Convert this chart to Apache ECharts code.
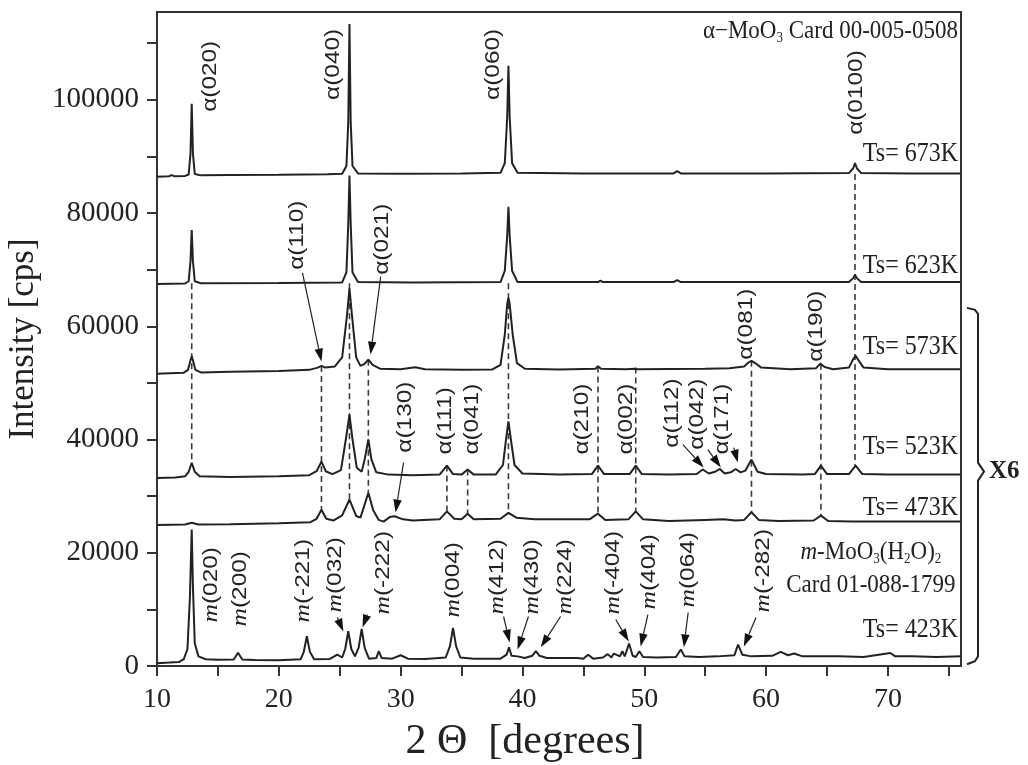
<!DOCTYPE html>
<html><head><meta charset="utf-8">
<script src="https://cdn.jsdelivr.net/npm/echarts@6/dist/echarts.min.js"></script>
<style>html,body{margin:0;padding:0;background:#fff}#c{width:1028px;height:765px}</style>
</head><body><div id="c"></div>
<script>
// ---------- axes ----------
const X_MIN = 10, X_MAX = 76, Y_MIN = 0, Y_MAX = 115500;
const xTickLabels = [10, 20, 30, 40, 50, 60, 70];
const yTickLabels = [0, 20000, 40000, 60000, 80000, 100000];

// ---------- traces [2theta, intensity] ----------
const t673 = [[10,86400],[11,86500],[11.2,86700],[11.4,86500],[12.3,86550],[12.6,86800],[12.75,90500],[12.85,99300],[12.95,90500],[13.1,86900],[13.6,86650],[16,86700],[20,86750],[24,86850],[25.2,86950],[25.55,88300],[25.7,96000],[25.8,113400],[25.9,96000],[26.05,88300],[26.5,87000],[30,86950],[35,87000],[38.2,87100],[38.55,88800],[38.75,97000],[38.85,106000],[38.95,97000],[39.15,88800],[39.6,87100],[45,87000],[52.4,87000],[52.7,87400],[53.0,87000],[60,87000],[66.8,87050],[67.15,87900],[67.3,88800],[67.45,87900],[67.8,87050],[72,87000],[76,87000]];
const t623 = [[10,67450],[12.3,67550],[12.6,67950],[12.75,71500],[12.85,77000],[12.95,71500],[13.1,67950],[13.6,67600],[20,67650],[25.2,67750],[25.55,69500],[25.7,78000],[25.8,86600],[25.9,78000],[26.05,69500],[26.5,67800],[31,67750],[38.2,67800],[38.55,69800],[38.75,76000],[38.85,81100],[38.95,76000],[39.15,69800],[39.6,67800],[46.2,67800],[46.4,68050],[46.6,67800],[52.4,67800],[52.7,68150],[53,67800],[66.8,67800],[67.15,68500],[67.3,69100],[67.45,68500],[67.8,67800],[76,67800]];
const t573 = [[10,51600],[11,51700],[12.2,51800],[12.55,52300],[12.75,54000],[12.85,54700],[12.95,54000],[13.15,52300],[13.6,51850],[16,51950],[20,52100],[22.5,52300],[23.2,52700],[23.5,53000],[23.8,52700],[24.6,52900],[25.2,54500],[25.6,62000],[25.8,66700],[26.0,62000],[26.35,54500],[26.7,53000],[27.0,53300],[27.35,54100],[27.7,53200],[28.3,52500],[30,52400],[31.2,52750],[32,52400],[35,52300],[37.5,52350],[38.2,53200],[38.55,58500],[38.75,64000],[38.85,65000],[38.95,64000],[39.2,58500],[39.55,53500],[40.2,52500],[43,52350],[46.0,52500],[46.2,52950],[46.45,52500],[48.5,52400],[49.15,52500],[49.3,52750],[49.5,52400],[52,52450],[55,52500],[57,52600],[58.2,52900],[58.55,53600],[58.8,53900],[59.1,53500],[59.6,52700],[62,52400],[64.1,52600],[64.45,53400],[64.8,52800],[65.5,52400],[66.8,52700],[67.15,54200],[67.35,54800],[67.55,54100],[68,52700],[70,52400],[76,52400]];
const t523 = [[10,33200],[11.5,33300],[12.3,33500],[12.6,34300],[12.85,35900],[13.1,34300],[13.5,33500],[16,33400],[20,33500],[22.5,33700],[23.1,34400],[23.5,36100],[23.85,34400],[24.4,33900],[25.1,34600],[25.5,40000],[25.8,44400],[26.05,40000],[26.4,35000],[26.8,34300],[27.05,36500],[27.35,40000],[27.6,36500],[28.0,34200],[29,33800],[31,33700],[33.2,33800],[33.8,35400],[34.3,33900],[35.0,33800],[35.5,34700],[36.0,33800],[37.8,33800],[38.4,35500],[38.65,40000],[38.85,43200],[39.05,40000],[39.35,35500],[40,34000],[43,33800],[45.7,33900],[46.2,35400],[46.7,33900],[48.8,33900],[49.3,35400],[49.8,33900],[52,33800],[54.3,33900],[54.8,34700],[55.3,34000],[55.8,34300],[56.2,34800],[56.6,34000],[57.1,34200],[57.5,34800],[57.9,34200],[58.3,34500],[58.8,36450],[59.3,34300],[60,33900],[63,33800],[64.0,33900],[64.5,35400],[65.0,33900],[66.8,33900],[67.35,35400],[67.9,33900],[70,33800],[76,33800]];
const t473 = [[10,24900],[12.3,25000],[12.85,25300],[13.4,25000],[16,25050],[20,25200],[22.6,25400],[23.1,26000],[23.5,27600],[23.9,26000],[24.5,25700],[25.2,26600],[25.8,29400],[26.35,26500],[26.7,26200],[27.0,28200],[27.35,30600],[27.75,27500],[28.2,25800],[28.6,25500],[29.1,26300],[29.5,26450],[30.2,25900],[31,25700],[33.2,25900],[33.8,27300],[34.4,26000],[35.0,25900],[35.5,26900],[36.0,25900],[38.2,26000],[38.85,27050],[39.5,26200],[41,25900],[45.5,25900],[46.2,26900],[46.8,25800],[48.7,25900],[49.3,27300],[49.9,25900],[52,25600],[55,25800],[56.5,25900],[57.5,25700],[58.2,25800],[58.8,27150],[59.4,25800],[61,25600],[63.9,25700],[64.5,26550],[65.1,25600],[67,25500],[70,25500],[76,25500]];
const t423 = [[10,500],[11,600],[11.8,700],[12.2,1200],[12.5,3000],[12.7,12000],[12.85,24100],[12.95,14000],[13.1,4000],[13.4,1700],[14,1200],[15,1100],[16.3,1150],[16.65,2330],[17.0,1150],[18,1050],[20,1000],[21.8,1200],[22.05,2500],[22.3,5260],[22.55,2500],[22.9,1200],[24.2,1250],[24.8,2000],[25.2,1500],[25.45,3000],[25.7,6140],[25.95,3000],[26.25,1700],[26.55,3200],[26.8,6560],[27.05,3200],[27.4,1300],[28.0,1400],[28.2,2600],[28.45,1400],[29.3,1300],[30.0,1900],[30.6,1300],[32,1250],[33.7,1500],[34.05,3500],[34.3,6740],[34.55,3500],[34.9,1500],[36,1300],[38.2,1300],[38.7,2000],[38.9,3320],[39.1,1800],[39.6,1700],[40.2,1400],[40.8,1800],[41.1,2610],[41.4,1800],[42,1400],[44.5,1400],[45.0,1300],[45.4,2000],[45.8,1300],[46.6,1500],[47.0,2100],[47.3,1500],[47.5,2200],[48.0,1700],[48.2,2600],[48.4,1700],[48.75,3970],[49.05,1800],[49.3,1600],[49.6,2610],[49.9,1600],[51,1500],[52.6,1600],[53.0,2910],[53.3,1700],[54.5,1600],[56,1700],[57.4,1900],[57.7,3790],[58.05,2000],[58.8,1700],[60.5,1800],[61.2,2500],[61.8,1900],[62.3,2200],[63,1700],[66,1700],[68,1600],[70.2,2300],[70.6,1700],[72,1700],[74,1600],[76,1700]];

// ---------- reference lines [2theta, from, to] ----------
const dashLines = [[12.85,67600,35900],[23.5,53000,27600],[25.8,67600,29400],[27.35,54100,30600],[33.8,35400,27300],[35.5,34700,26900],[38.85,67600,27050],[46.2,52900,26900],[49.3,52700,27300],[58.8,53900,27150],[64.5,53400,26550],[67.3,86900,35400]];

// ---------- peak labels [2theta, bottom of text, hkl] ----------
const alphaLabels = [[14.38,97870,'(020)'],[24.49,99980,'(040)'],[37.63,99980,'(060)'],[67.46,93800,'(0100)'],[21.53,69970,'(110)'],[28.5,69100,'(021)'],[30.4,37680,'(130)'],[33.69,37330,'(111)'],[35.91,37330,'(041)'],[44.93,37330,'(210)'],[48.5,37330,'(002)'],[52.35,38560,'(112)'],[54.4,38200,'(042)'],[56.45,37330,'(171)'],[58.35,54100,'(081)'],[64.1,53740,'(190)']];
const mLabels = [[14.5,7680,'(020)'],[16.85,6970,'(200)'],[22.0,7680,'(-221)'],[24.65,9440,'(032)'],[28.6,9090,'(-222)'],[34.35,8560,'(004)'],[37.96,9090,'(412)'],[40.82,9090,'(430)'],[43.55,9090,'(224)'],[47.5,9090,'(-404)'],[50.4,9970,'(404)'],[53.6,10320,'(064)'],[59.82,9440,'(-282)']];
// arrows [x1,y1,x2(tip),y2(tip)]
const arrows = [[21.94,69440,23.5,53760],[28.36,68770,27.53,55000],[30.24,35920,29.58,27090],[53.17,39100,54.88,35040],[55.22,38210,56.29,35040],[57.35,38570,57.68,35920],
 [24.81,8560,25.3,6090],[27.27,9090,26.87,6790],[38.45,8740,38.95,4150],[40.49,8740,39.6,2910],[43.13,8740,41.5,3290],[47.66,8210,48.73,4320],[50.3,9090,49.7,3440],[53.6,9440,53.25,3290],[59.17,8560,58.17,3440]];
// temperature labels [center intensity, text]
const tempLabels = [[90460,'673K'],[70690,'623K'],[56390,'573K'],[38740,'523K'],[27890,'473K'],[6440,'423K']];
const cardAlpha = [112000, 'Card 00-005-0508'];
const cardM = [[68.6, 20030], [68.6, 14210, 'Card 01-088-1799']];
const braceSpan = [63250, 300, 34330, 'X6'];

const traces = [t673, t623, t573, t523, t473, t423];
const chart = echarts.init(document.getElementById('c'), null, {renderer: 'canvas'});
const INK = '#222';
const SANS = '"Liberation Sans", Arial, sans-serif';
const SERIF = '"Liberation Serif", "Times New Roman", serif';

function dashItem(params, api) {
  const d = dashLines[params.dataIndex];
  const a = api.coord([d[0], d[1]]), b = api.coord([d[0], d[2]]);
  return {type: 'line', shape: {x1: a[0], y1: a[1], x2: b[0], y2: b[1]},
    style: {stroke: '#3a3a3a', lineWidth: 1.6, lineDash: [6, 4]}};
}
function alphaItem(params, api) {
  const d = alphaLabels[params.dataIndex];
  const p = api.coord([d[0], d[1]]);
  return {type: 'text', x: p[0], y: p[1], rotation: Math.PI / 2, scaleX: 1.22,
    style: {text: 'α' + d[2], font: '20px ' + SANS, fill: '#222', align: 'left', verticalAlign: 'middle'}};
}
function mItem(params, api) {
  const d = mLabels[params.dataIndex];
  const p = api.coord([d[0], d[1]]);
  return {type: 'text', x: p[0], y: p[1], rotation: Math.PI / 2, scaleX: 1.22,
    style: {text: '{i|m}{n|' + d[2] + '}', align: 'left', verticalAlign: 'middle', fill: '#222',
      rich: {i: {fontStyle: 'italic', fontSize: 21, fontFamily: SERIF, fill: '#222'},
             n: {fontSize: 20, fontFamily: SANS, fill: '#222'}}}};
}
function arrowItem(params, api) {
  const d = arrows[params.dataIndex];
  const a = api.coord([d[0], d[1]]), b = api.coord([d[2], d[3]]);
  const dx = b[0] - a[0], dy = b[1] - a[1], L = Math.hypot(dx, dy), ux = dx / L, uy = dy / L;
  const hl = Math.min(13, L * 0.95), hw = 4.2;
  const bx = b[0] - ux * hl, by = b[1] - uy * hl;
  return {type: 'group', children: [
    {type: 'line', shape: {x1: a[0], y1: a[1], x2: bx, y2: by}, style: {stroke: INK, lineWidth: 1.2}},
    {type: 'polygon', shape: {points: [[b[0], b[1]], [bx - uy * hw, by + ux * hw], [bx + uy * hw, by - ux * hw]]}, style: {fill: '#111'}}
  ]};
}
function tempItem(params, api) {
  const d = tempLabels[params.dataIndex];
  const p = api.coord([X_MAX, d[0]]);
  return {type: 'text', x: p[0] - 3, y: p[1], scaleY: 1.12,
    style: {text: 'Ts= ' + d[1], font: '24px ' + SERIF, fill: INK, align: 'right', verticalAlign: 'middle'}};
}
function cardItem(params, api) {
  if (params.dataIndex === 0) {
    const p = api.coord([X_MAX, cardAlpha[0]]);
    return {type: 'text', x: p[0] - 3, y: p[1], scaleY: 1.1,
      style: {text: '{a|α−MoO}{s|3}{a| ' + cardAlpha[1] + '}', align: 'right', verticalAlign: 'middle',
        rich: {a: {fontSize: 23, fontFamily: SERIF, fill: INK}, s: {fontSize: 13, fontFamily: SERIF, fill: INK, padding: [12, 0, 0, 0]}}}};
  }
  const p1 = api.coord(cardM[0]), p2 = api.coord([cardM[1][0], cardM[1][1]]);
  return {type: 'group', children: [
    {type: 'text', x: p1[0], y: p1[1], scaleY: 1.1,
      style: {text: '{i|m}{a|-MoO}{s|3}{a|(H}{s|2}{a|O)}{s|2}', align: 'center', verticalAlign: 'middle',
        rich: {i: {fontSize: 23, fontStyle: 'italic', fontFamily: SERIF, fill: INK}, a: {fontSize: 23, fontFamily: SERIF, fill: INK},
               s: {fontSize: 13, fontFamily: SERIF, fill: INK, padding: [12, 0, 0, 0]}}}},
    {type: 'text', x: p2[0], y: p2[1], scaleY: 1.1,
      style: {text: cardM[1][2], font: '23px ' + SERIF, fill: INK, align: 'center', verticalAlign: 'middle'}}
  ]};
}
function braceItem(params, api) {
  const top = api.coord([X_MAX, braceSpan[0]]), bot = api.coord([X_MAX, braceSpan[1]]), mid = api.coord([X_MAX, braceSpan[2]]);
  const x0 = top[0] + 6, x1 = top[0] + 17, x2 = top[0] + 23;
  return {type: 'group', children: [
    {type: 'polyline', shape: {points: [[x0, top[1]], [x1 - 3, top[1] + 2], [x1, top[1] + 6], [x1, mid[1] - 9], [x2, mid[1]], [x1, mid[1] + 9], [x1, bot[1] - 8], [x1 - 3, bot[1] - 3], [x0, bot[1]]]},
      style: {stroke: INK, lineWidth: 2, fill: null}},
    {type: 'text', x: x2 + 5, y: mid[1], style: {text: braceSpan[3], font: 'bold 25px ' + SERIF, fill: INK, align: 'left', verticalAlign: 'middle'}}
  ]};
}

const series = [];
series.push({type: 'custom', name: 'dash', renderItem: dashItem, data: dashLines.map(d => [d[0], d[1]]), z: 1, silent: true, clip: false});
traces.forEach((t, i) => series.push({type: 'line', data: t, showSymbol: false, symbol: 'none', z: 3,
  lineStyle: {color: INK, width: 2}, itemStyle: {color: INK}, animation: false}));
series.push({type: 'custom', renderItem: alphaItem, data: alphaLabels.map(d => [d[0], d[1]]), z: 5, silent: true, clip: false});
series.push({type: 'custom', renderItem: mItem, data: mLabels.map(d => [d[0], d[1]]), z: 5, silent: true, clip: false});
series.push({type: 'custom', renderItem: arrowItem, data: arrows.map(d => [d[0], d[1]]), z: 5, silent: true, clip: false});
series.push({type: 'custom', renderItem: tempItem, data: tempLabels.map(d => [X_MAX, d[0]]), z: 5, silent: true, clip: false});
series.push({type: 'custom', renderItem: cardItem, data: [[X_MAX, cardAlpha[0]], cardM[0]], z: 5, silent: true, clip: false});
series.push({type: 'custom', renderItem: braceItem, data: [[X_MAX, braceSpan[0]]], z: 5, silent: true, clip: false});

chart.setOption({
  animation: false,
  backgroundColor: '#fff',
  grid: {left: 157, right: 67, top: 12, bottom: 99, show: true, borderColor: '#333', borderWidth: 2, backgroundColor: 'transparent',
    outerBoundsMode: 'none', containLabel: false},
  xAxis: {type: 'value', min: X_MIN, max: X_MAX, interval: 5,
    axisLine: {show: true, onZero: false, lineStyle: {color: '#333', width: 2}},
    axisTick: {show: true, length: 10, lineStyle: {color: '#333', width: 2}},
    axisLabel: {formatter: v => xTickLabels.includes(v) ? String(v) : '', fontFamily: SERIF, fontSize: 28, color: INK, margin: 20, showMaxLabel: false},
    splitLine: {show: false},
    name: '2 Θ  [degrees]', nameLocation: 'middle', nameGap: 55,
    nameTextStyle: {fontFamily: SERIF, fontSize: 42, color: INK, padding: [0, 68, 0, 0]}},
  yAxis: {type: 'value', min: Y_MIN, max: Y_MAX, interval: 10000,
    axisLine: {show: true, onZero: false, lineStyle: {color: '#333', width: 2}},
    axisTick: {show: true, length: 10, lineStyle: {color: '#333', width: 2}},
    axisLabel: {formatter: v => yTickLabels.includes(v) ? String(v) : '', fontFamily: SERIF, fontSize: 29, color: INK, margin: 18, showMaxLabel: false},
    splitLine: {show: false},
    name: 'Intensity [cps]', nameLocation: 'middle', nameGap: 110,
    nameTextStyle: {fontFamily: SERIF, fontSize: 35, color: INK}},
  series: series
});
</script></body></html>
